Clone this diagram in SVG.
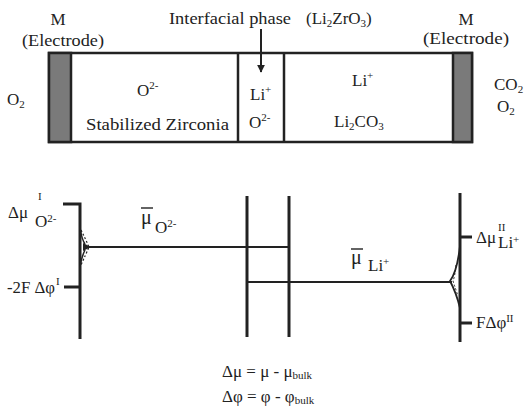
<svg xmlns="http://www.w3.org/2000/svg" width="528" height="411" viewBox="0 0 528 411" font-family="'Liberation Serif','Times New Roman',serif">
<defs>
<style>
text{font-family:"Liberation Serif","Times New Roman",serif;fill:#222;font-size:17px}
.c{text-anchor:middle}
.s{font-size:11px}
.big{font-size:20px}
.ln{stroke:#222;fill:none}
.v{stroke-width:3}
.h{stroke-width:2}
</style>
<marker id="ah" viewBox="0 0 10 10" refX="9" refY="5" markerWidth="8" markerHeight="8" orient="auto" markerUnits="userSpaceOnUse"><path d="M0,0 L10,5 L0,10 z" fill="#222"/></marker>
</defs>
<rect width="528" height="411" fill="#fff"/>

<g id="cell">
<rect x="49" y="53" width="423" height="89" fill="#fff" stroke="#222" stroke-width="2.5"/>
<rect x="49" y="53" width="22" height="89" fill="#7a7a7a" stroke="#222" stroke-width="2.5"/>
<rect x="453" y="53" width="19" height="89" fill="#7a7a7a" stroke="#222" stroke-width="2.5"/>
<line class="ln" x1="238" y1="53" x2="238" y2="142" stroke-width="2.5"/>
<line class="ln" x1="284" y1="53" x2="284" y2="142" stroke-width="2.5"/>
</g>

<g id="labels-top">
<text class="c" x="58" y="25">M</text>
<text x="22" y="46" textLength="82" lengthAdjust="spacingAndGlyphs">(Electrode)</text>
<text class="c" x="466" y="25">M</text>
<text x="423" y="44" textLength="86" lengthAdjust="spacingAndGlyphs">(Electrode)</text>
<text x="169" y="24" textLength="122" lengthAdjust="spacingAndGlyphs">Interfacial phase</text>
<text x="306" y="24">(Li<tspan class="s" dy="3">2</tspan><tspan dy="-3">ZrO</tspan><tspan class="s" dy="3">3</tspan><tspan dy="-3">)</tspan></text>
<text x="7" y="105">O<tspan class="s" dy="3">2</tspan></text>
<text x="494" y="90">CO<tspan class="s" dy="3">2</tspan></text>
<text x="497" y="112">O<tspan class="s" dy="3">2</tspan></text>
<text x="137" y="96">O<tspan class="s" dy="-7">2-</tspan></text>
<text x="86" y="130" textLength="143" lengthAdjust="spacingAndGlyphs">Stabilized Zirconia</text>
<text x="250" y="100">Li<tspan class="s" dy="-7">+</tspan></text>
<text x="249" y="128">O<tspan class="s" dy="-7">2-</tspan></text>
<text x="352" y="86">Li<tspan class="s" dy="-7">+</tspan></text>
<text x="334" y="127">Li<tspan class="s" dy="3">2</tspan><tspan dy="-3">CO</tspan><tspan class="s" dy="3">3</tspan></text>
</g>

<g id="connectors">
<line class="ln" x1="261" y1="29" x2="261" y2="72" stroke-width="2" marker-end="url(#ah)"/>
</g>

<g id="plot">
<polyline class="ln v" points="63,204 80,204 80,339"/>
<line class="ln v" x1="64" y1="287" x2="80" y2="287"/>
<line class="ln v" x1="247" y1="196" x2="247" y2="337"/>
<line class="ln v" x1="289" y1="196" x2="289" y2="337"/>
<line class="ln v" x1="460" y1="193" x2="460" y2="342"/>
<line class="ln v" x1="460" y1="237" x2="472" y2="237"/>
<line class="ln v" x1="460" y1="323" x2="472" y2="323"/>
<line class="ln h" x1="88" y1="247" x2="289" y2="247"/>
<line class="ln h" x1="247" y1="282" x2="452" y2="282"/>
<path class="ln" d="M81,230 Q86,240 89,247 Q86,254 81,265" stroke-width="1.2" stroke-dasharray="2,2"/>
<path class="ln" d="M80,228 Q82,240 85,244 M85,250 Q82,256 80,266" stroke-width="1.5"/>
<path d="M83,243 L91,247 L83,251 z" fill="#222"/>
<path class="ln" d="M460,246 Q457,272 450,281 Q456,292 460,308" stroke-width="1.8"/>
<path class="ln" d="M456,265 Q455,276 453,281 Q456,290 458,296" stroke-width="1" stroke-dasharray="2,2"/>
</g>

<g id="labels-plot">
<text x="8" y="218" font-size="16">Δμ</text>
<text class="s" x="38" y="200">I</text>
<text x="35" y="227" font-size="14">O<tspan class="s" dy="-5">2-</tspan></text>
<text x="7" y="293" font-size="16" textLength="48" lengthAdjust="spacingAndGlyphs">-2F Δφ</text>
<text class="s" x="56" y="285">I</text>
<text class="big" x="141" y="224">μ</text>
<line class="ln" x1="141" y1="208" x2="153" y2="208" stroke-width="1.4"/>
<text x="155" y="233" font-size="16">O<tspan class="s" dy="-6">2-</tspan></text>
<text class="big" x="351" y="264">μ</text>
<line class="ln" x1="351" y1="249" x2="363" y2="249" stroke-width="1.4"/>
<text x="368" y="271" font-size="16">Li<tspan class="s" dy="-6">+</tspan></text>
<text x="476" y="243" font-size="16">Δμ</text>
<text class="s" x="498" y="231">II</text>
<text x="498" y="248" font-size="13">Li<tspan class="s" dy="-5">+</tspan></text>
<text x="476" y="328" font-size="16">FΔφ<tspan class="s" dy="-6">II</tspan></text>
<text x="222" y="377" font-size="15">Δμ = μ - μ<tspan class="s" dy="2">bulk</tspan></text>
<text x="222" y="402" font-size="15">Δφ = φ - φ<tspan class="s" dy="2">bulk</tspan></text>
</g>
</svg>
